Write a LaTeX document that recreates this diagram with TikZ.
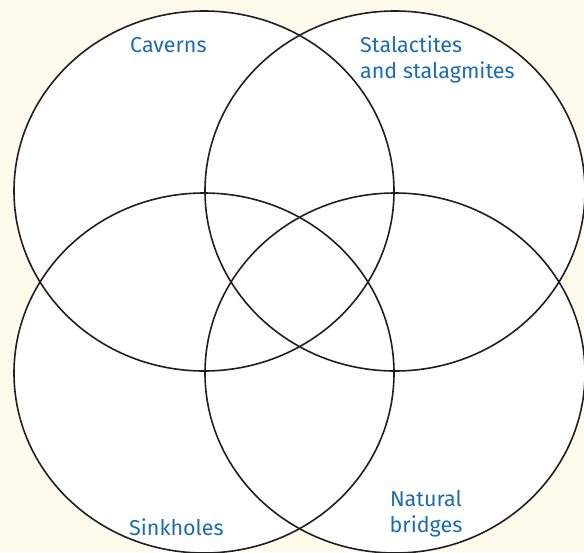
\documentclass[tikz,border=0pt]{standalone}
\usepackage{fontspec}
\setmainfont{Fira Sans}
\usepackage{xcolor}
\definecolor{paper}{RGB}{254,251,237}
\definecolor{inkblue}{RGB}{28,108,178}
\definecolor{ringline}{RGB}{34,30,30}

\begin{document}
\begin{tikzpicture}[x=1pt, y=-1pt,
    ring/.style={line width=1.6pt, draw=ringline},
    tag/.style={text=inkblue, font=\fontsize{21.5}{26}\selectfont, inner sep=0pt}]
    % Page
    \useasboundingbox (0,0) rectangle (584,552);
    \fill [paper] (0,0) rectangle (584,552);
    \clip (0,0) rectangle (584,552);

    % Circles: fill first, then outlines
    \foreach \cx/\cy in {204/191, 395/191, 204/373, 395/373}
        \fill [white] (\cx,\cy) ellipse [x radius=190, y radius=180];
    \foreach \cx/\cy in {204/191, 395/191, 204/373, 395/373}
        \draw [ring] (\cx,\cy) ellipse [x radius=190, y radius=180];

    % Labels (base = baseline of last line)
    \node [tag, anchor=base west] (caverns) at (130,52) {Caverns};
    \node [tag, anchor=base west, align=left] (stalac) at (360,78) {Stalactites\\and stalagmites};
    \node [tag, anchor=base west] (sinkholes) at (129,535) {Sinkholes};
    \node [tag, anchor=base, align=center] (bridges) at (426,532) {Natural\\bridges};
\end{tikzpicture}
\end{document}
